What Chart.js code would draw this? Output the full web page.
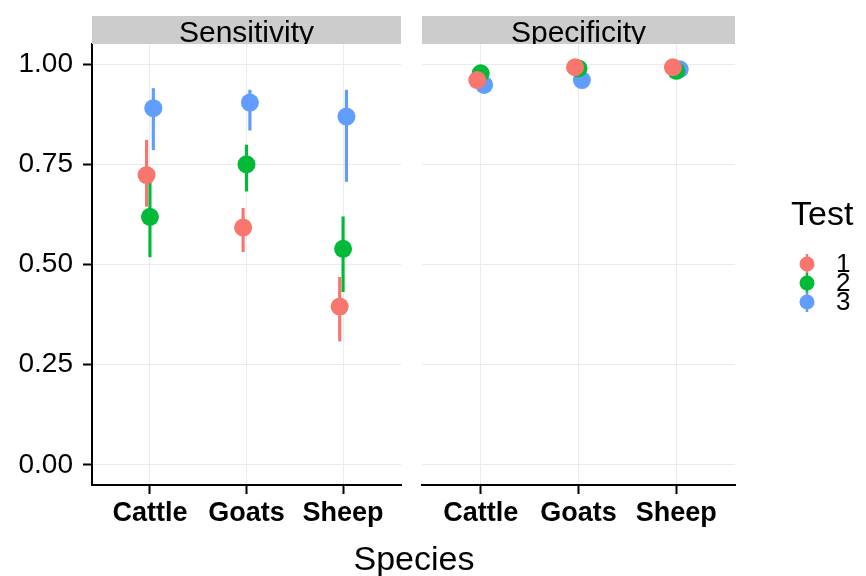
<!DOCTYPE html>
<html>
<head>
<meta charset="utf-8">
<script src="https://cdn.jsdelivr.net/npm/chart.js@4"></script>
<style>
    body { margin: 0; background: #fff; width: 866px; height: 576px; position: relative; overflow: hidden; font-family: 'Liberation Sans', Arial, sans-serif; }
    #left-panel { position: absolute; left: 0; top: 0; }
    #right-panel { position: absolute; left: 410px; top: 0; }
    #x-title { position: absolute; left: 0; width: 828px; top: 541px; text-align: center; font-size: 34px; line-height: 34px; color: #000; }
</style>
</head>
<body>
<canvas id="left-panel" width="410" height="576"></canvas>
<canvas id="right-panel" width="456" height="576"></canvas>
<div id="x-title">Species</div>
<script>
var species = ['Cattle', 'Goats', 'Sheep'];
var tests = ['1', '2', '3'];
var testColors = ['#F8766D', '#00BA38', '#619CFF'];
var yTicks = [0, 0.25, 0.5, 0.75, 1];

// rows = test 1, 2, 3 ; columns = Cattle, Goats, Sheep
var sensEst = [[0.723, 0.592, 0.395], [0.619, 0.750, 0.539], [0.890, 0.904, 0.869]];
var sensLo = [[0.645, 0.532, 0.309], [0.519, 0.683, 0.432], [0.786, 0.835, 0.707]];
var sensHi = [[0.810, 0.640, 0.468], [0.712, 0.798, 0.619], [0.939, 0.935, 0.935]];

var specEst = [[0.960, 0.992, 0.992], [0.977, 0.989, 0.983], [0.948, 0.960, 0.987]];
var specLo = [[0.945, 0.983, 0.983], [0.965, 0.979, 0.972], [0.932, 0.946, 0.977]];
var specHi = [[0.972, 0.998, 0.998], [0.986, 0.995, 0.991], [0.961, 0.971, 0.994]];

var fontFamily = "'Liberation Sans', Arial, sans-serif";
var dodge = [-0.035, 0, 0.035];

function buildDatasets(est, lo, hi) {
    var sets = [];
    tests.forEach(function (t, g) {
        sets.push({
            type: 'scatter',
            label: 'Test ' + t,
            data: species.map(function (s, i) { return { x: i + 0.6 + dodge[g], y: est[g][i] }; }),
            backgroundColor: testColors[g],
            borderWidth: 0,
            pointRadius: 9,
            pointHoverRadius: 9,
            order: g * 2
        });
        sets.push({
            type: 'bar',
            label: 'Test ' + t + ' range',
            data: species.map(function (s, i) { return { x: i + 0.6 + dodge[g], y: [lo[g][i], hi[g][i]] }; }),
            backgroundColor: testColors[g],
            borderWidth: 0,
            barThickness: 2.5,
            grouped: false,
            order: g * 2 + 1
        });
    });
    return sets;
}

// grey facet strip on top of each panel
var stripPlugin = {
    id: 'strip',
    afterDraw(chart, args, opts) {
        var c = chart.ctx, a = chart.chartArea;
        c.save();
        c.fillStyle = '#cccccc';
        c.fillRect(a.left, 16, a.right - a.left, a.top - 16);
        c.beginPath();
        c.rect(a.left, 16, a.right - a.left, a.top - 16);
        c.clip();
        c.fillStyle = '#000';
        c.font = '30px ' + fontFamily;
        c.textAlign = 'center';
        c.textBaseline = 'alphabetic';
        c.fillText(opts.text, (a.left + a.right) / 2, 42);
        c.restore();
    }
};

var testLegend = {
    id: 'testLegend',
    afterDraw(chart, args, opts) {
        if (!opts.show) return;
        var c = chart.ctx, a = chart.chartArea;
        var x0 = a.right + 56;
        c.save();
        c.fillStyle = '#000';
        c.font = '34px ' + fontFamily;
        c.textAlign = 'left';
        c.textBaseline = 'alphabetic';
        c.fillText('Test', x0, 225);
        tests.forEach(function (t, i) {
            var y = 264 + i * 19;
            c.strokeStyle = testColors[i];
            c.lineWidth = 2.5;
            c.beginPath();
            c.moveTo(x0 + 16, y - 10);
            c.lineTo(x0 + 16, y + 10);
            c.stroke();
            c.fillStyle = testColors[i];
            c.beginPath();
            c.arc(x0 + 16, y, 7.5, 0, Math.PI * 2);
            c.fill();
            c.fillStyle = '#000';
            c.font = '26px ' + fontFamily;
            c.textBaseline = 'middle';
            c.fillText(t, x0 + 45, y + 1);
        });
        c.restore();
    }
};

function makeScales(showY) {
    return {
        x: {
            type: 'linear',
            min: 0,
            max: 3.2,
            offset: false,
            afterBuildTicks: function (s) { s.ticks = species.map(function (n, i) { return { value: i + 0.6 }; }); },
            afterFit: function (s) { s.height = 91; },
            grid: { offset: false, color: '#ebebeb', lineWidth: 1, tickColor: '#000', tickWidth: 2, tickLength: 9 },
            border: { display: true, color: '#000', width: 2 },
            ticks: {
                color: '#000', padding: 3, maxRotation: 0, autoSkip: false,
                font: { family: fontFamily, size: 27, weight: 'bold' },
                callback: function (v, i) { return species[i]; }
            }
        },
        y: {
            type: 'linear',
            min: -0.05,
            max: 1.05,
            afterBuildTicks: function (s) { s.ticks = yTicks.map(function (v) { return { value: v }; }); },
            afterFit: function (s) { s.width = showY ? 92 : 12; },
            grid: { color: '#ebebeb', lineWidth: 1, tickColor: '#000', tickWidth: 2, tickLength: 9, drawTicks: showY },
            border: { display: showY, color: '#000', width: 2 },
            ticks: {
                display: showY, color: '#000', padding: 10,
                font: { family: fontFamily, size: 28 },
                callback: function (v) { return v.toFixed(2); }
            }
        }
    };
}

function makeChart(id, title, est, lo, hi, showY, padRight, showLegend) {
    return new Chart(document.getElementById(id), {
        type: 'scatter',
        data: { datasets: buildDatasets(est, lo, hi) },
        options: {
            responsive: false,
            animation: false,
            layout: { padding: { top: 44, left: 0, right: padRight, bottom: 0 } },
            scales: makeScales(showY),
            plugins: {
                legend: { display: false },
                tooltip: { enabled: false },
                strip: { text: title },
                testLegend: { show: showLegend }
            }
        },
        plugins: [stripPlugin, testLegend]
    });
}

makeChart('left-panel', 'Sensitivity', sensEst, sensLo, sensHi, true, 7, false);
makeChart('right-panel', 'Specificity', specEst, specLo, specHi, false, 131, true);
</script>
</body>
</html>
